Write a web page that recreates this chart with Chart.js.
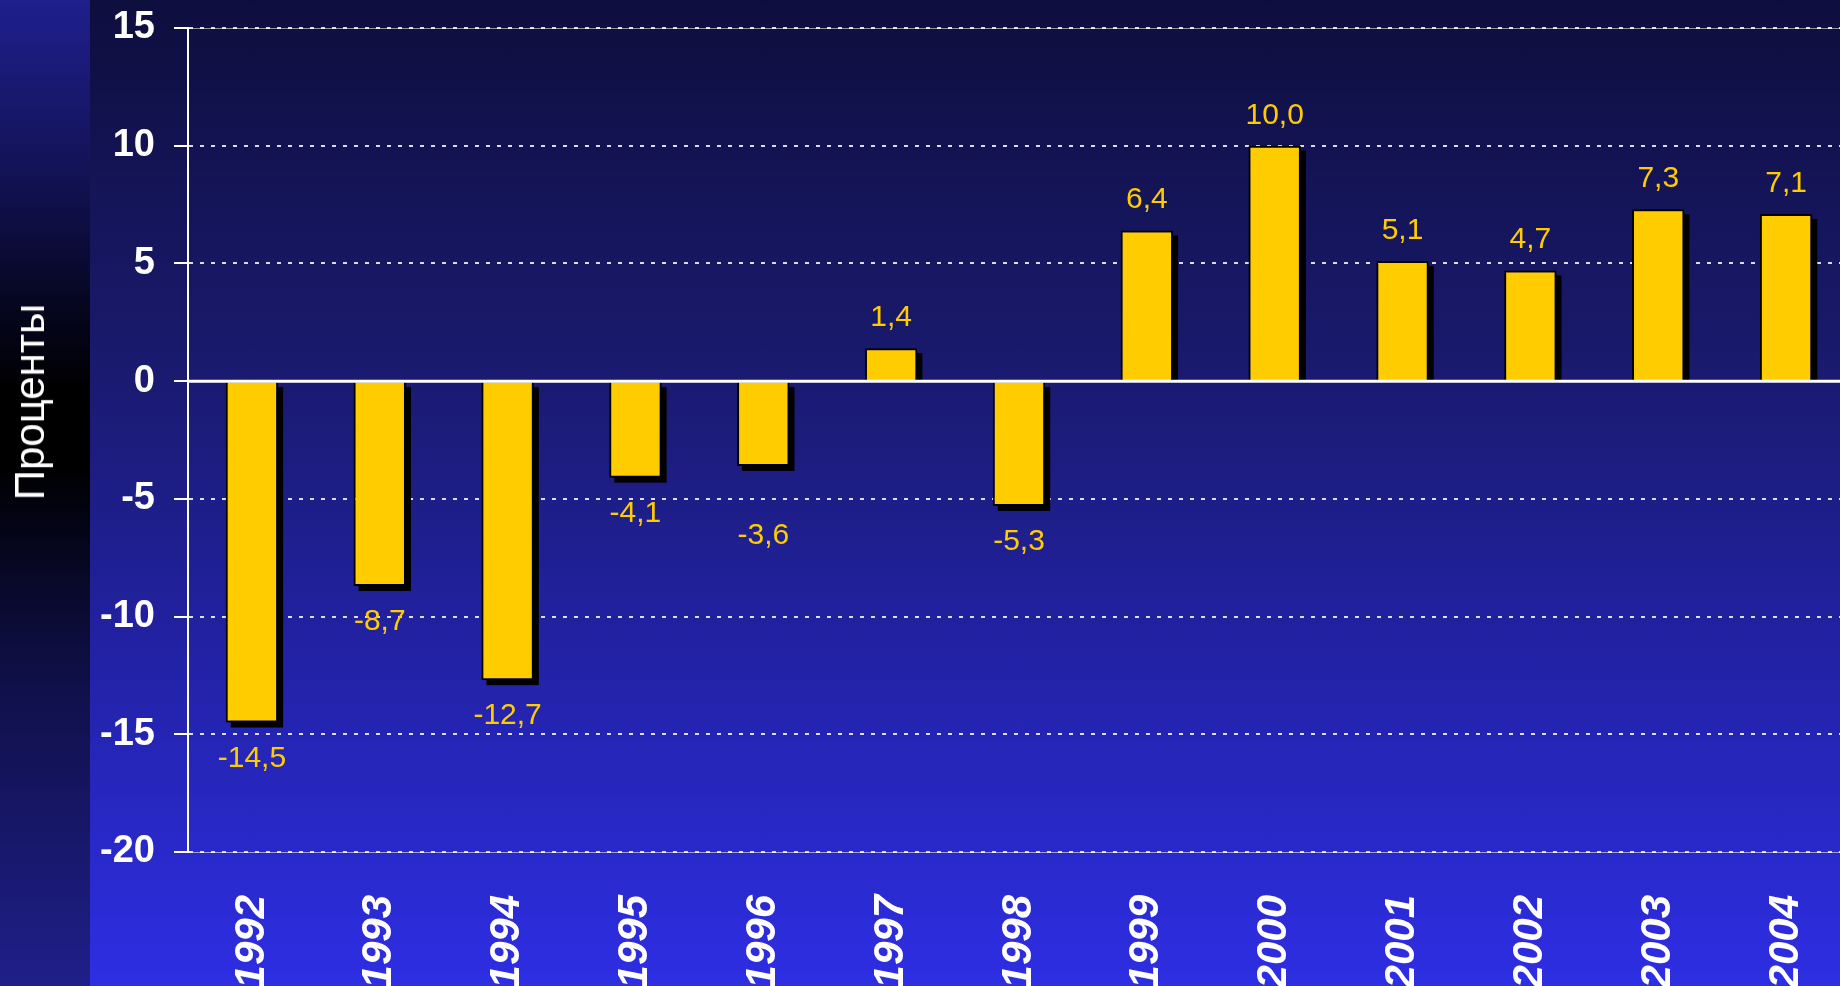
<!DOCTYPE html>
<html>
<head>
<meta charset="utf-8">
<script src="https://cdn.jsdelivr.net/npm/chart.js@4.4.0/dist/chart.umd.min.js"></script>
<style>
  html, body { margin: 0; padding: 0; width: 1840px; height: 986px; overflow: hidden; }
  body {
    position: relative;
    font-family: Arial, "Liberation Sans", sans-serif;
    background: linear-gradient(to bottom, #0e0e3e 0%, #1a1a70 38%, #2323ac 70%, #2e2ee4 100%);
  }
  #strip {
    position: absolute; left: 0; top: 0; width: 90px; height: 986px;
    background: linear-gradient(to bottom, #1f1f8e 0%, #121254 18%, #05051c 32%, #000 40%, #000 47%, #06061f 56%, #0f0f46 68%, #1f1f8a 100%);
  }
  #wrap { position: absolute; left: 0; top: 0; width: 1850px; height: 986px; }
  #ytitle {
    position: absolute; left: 30px; top: 402px;
    transform: translate(-50%, -50%) rotate(-90deg);
    color: #fff; font-size: 42px; white-space: nowrap;
  }
</style>
</head>
<body>
<div id="strip"></div>
<div id="wrap"><canvas id="growthChart" width="1850" height="986"></canvas></div>
<div id="ytitle">Проценты</div>
<script>
const years = ["1992", "1993", "1994", "1995", "1996", "1997", "1998", "1999", "2000", "2001", "2002", "2003", "2004"];
const growth = [-14.5, -8.7, -12.7, -4.1, -3.6, 1.4, -5.3, 6.4, 10.0, 5.1, 4.7, 7.3, 7.1];
const yTicks = [-20, -15, -10, -5, 0, 5, 10, 15];

const fontFamily = "Arial, 'Liberation Sans', sans-serif";

// black offset shadow behind each bar
const barShadow = {
  id: "barShadow",
  beforeDatasetsDraw(chart) {
    const ctx = chart.ctx;
    const meta = chart.getDatasetMeta(0);
    ctx.save();
    ctx.fillStyle = "#000";
    meta.data.forEach((bar, i) => {
      const w = bar.width;
      const left = bar.x - w / 2 + 5;
      let top, bottom;
      if (growth[i] >= 0) {
        top = bar.y + 5;
        bottom = bar.base;
      } else {
        top = bar.base + 5;
        bottom = bar.y + 5;
      }
      ctx.fillRect(left, top, w, bottom - top);
    });
    ctx.restore();
  }
};

// zero line, frame lines and value labels
const valueLabels = {
  id: "valueLabels",
  afterDatasetsDraw(chart) {
    const ctx = chart.ctx;
    const area = chart.chartArea;
    const yScale = chart.scales.y;
    ctx.save();

    ctx.strokeStyle = "rgba(255,255,255,0.55)";
    ctx.lineWidth = 1;
    ctx.beginPath();
    ctx.moveTo(area.left, area.top + 0.5);
    ctx.lineTo(area.right, area.top + 0.5);
    ctx.moveTo(area.left, area.bottom + 0.5);
    ctx.lineTo(area.right, area.bottom + 0.5);
    ctx.stroke();

    const y0 = yScale.getPixelForValue(0);
    ctx.strokeStyle = "#ffffff";
    ctx.lineWidth = 3;
    ctx.beginPath();
    ctx.moveTo(area.left, y0);
    ctx.lineTo(area.right, y0);
    ctx.stroke();

    ctx.fillStyle = "#ffcc00";
    ctx.font = "30px " + fontFamily;
    ctx.textAlign = "center";
    ctx.textBaseline = "alphabetic";
    const meta = chart.getDatasetMeta(0);
    meta.data.forEach((bar, i) => {
      const v = growth[i];
      const txt = v.toFixed(1).replace(".", ",");
      let y = v >= 0 ? bar.y - 22 : bar.y + 44;
      // the 1996 label sits lower in the original, clear of the -5 gridline
      if (years[i] === "1996") y += 34;
      ctx.fillText(txt, bar.x, y);
    });
    ctx.restore();
  }
};

const data = {
  labels: years,
  datasets: [
    {
      data: growth,
      backgroundColor: "#ffcc00",
      borderColor: "#000000",
      borderWidth: 2,
      borderSkipped: "start",
      barPercentage: 0.41,
      categoryPercentage: 1.0,
    },
  ],
};

const config = {
  type: "bar",
  data: data,
  plugins: [barShadow, valueLabels],
  options: {
    responsive: false,
    animation: false,
    devicePixelRatio: 1,
    layout: {
      padding: { top: 28, left: 0, right: 0, bottom: 0 },
    },
    plugins: {
      legend: { display: false },
      tooltip: { enabled: false },
    },
    scales: {
      x: {
        grid: { display: false, drawTicks: false },
        border: { display: false },
        ticks: {
          color: "#ffffff",
          autoSkip: false,
          minRotation: 90,
          maxRotation: 90,
          padding: 43,
          font: { family: fontFamily, size: 42, weight: "bold", style: "italic" },
        },
        afterFit(scale) {
          scale.height = 134;
          scale.paddingLeft = 0;
          scale.paddingRight = 0;
        },
      },
      y: {
        min: -20,
        max: 15,
        afterBuildTicks(scale) {
          scale.ticks = yTicks.map(v => ({ value: v }));
        },
        grid: {
          color: ctx => (ctx.tick && ctx.tick.value === 0 ? "rgba(0,0,0,0)" : "rgba(255,255,255,0.85)"),
          lineWidth: 2,
          borderDash: [4, 7],
          tickBorderDash: [],
          tickColor: "#ffffff",
          tickWidth: 2,
          tickLength: 14,
        },
        border: {
          display: true,
          color: "#ffffff",
          width: 2,
          dash: [4, 7],
        },
        ticks: {
          color: "#ffffff",
          padding: 19,
          font: { family: fontFamily, size: 38, weight: "bold" },
        },
        afterFit(scale) {
          scale.width = 188;
          scale.paddingTop = 0;
          scale.paddingBottom = 0;
        },
      },
    },
  },
};

const growthChart = new Chart(document.getElementById("growthChart"), config);
</script>
</body>
</html>
